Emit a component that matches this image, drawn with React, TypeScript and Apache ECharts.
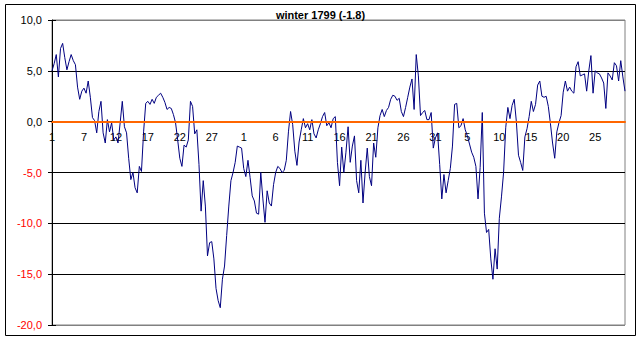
import React, { useEffect, useRef } from "react";
import * as echarts from "echarts";

// Temperature readings (3 per day, Dec 1799 – Feb 1800)
const temps: number[] = [
  5.0, 5.7, 6.6, 4.4, 7.2, 7.7, 6.3, 5.1, 5.9, 6.6,
  6.0, 5.6, 3.4, 2.2, 3.0, 3.3, 2.8, 4.0, 2.4, 0.4,
  0.1, -1.1, 1.0, 2.0, -1.1, -2.1, 0.2, -1.0, -0.1, -1.8,
  -1.5, -2.1, -0.1, 2.0, -0.5, -1.1, -3.6, -5.7, -5.0, -6.5,
  -7.0, -4.4, -4.9, -1.0, 1.8, 2.0, 1.7, 2.2, 1.8, 2.4,
  2.6, 2.8, 2.4, 1.9, 1.2, 1.4, 1.3, 0.7, -0.1, -1.8,
  -3.6, -4.4, -2.3, -2.5, -1.8, 2.0, 1.5, -1.2, -0.8, -4.2,
  -8.8, -5.8, -8.3, -13.2, -11.9, -11.8, -13.5, -16.4, -17.6, -18.3,
  -15.5, -14.2, -11.2, -8.3, -5.8, -5.0, -4.0, -2.4, -2.5, -2.6,
  -4.6, -5.4, -3.8, -5.5, -7.3, -7.8, -9.0, -9.1, -5.0, -7.6,
  -9.9, -6.8, -8.0, -8.3, -6.2, -5.0, -4.4, -4.6, -5.0, -4.8,
  -3.8, -1.0, 1.0, -0.3, -2.9, -4.3, -2.0, -0.8, 0.3, -0.6,
  -0.2, -0.8, 0.2, -1.2, -1.6, -0.8, -0.2, 0.5, 0.9, -0.4,
  -0.1, -0.6, 0.3, 0.5, -4.0, -6.3, -2.5, -5.0, -3.0,
  -0.5, -4.0, -2.4, -1.4, -5.8, -7.0, -3.8, -8.0, -5.0, -2.6,
  -5.4, -6.3, -2.1, -3.5, -0.6, 0.6, 1.2, 0.5, 1.1, 1.4,
  2.2, 2.6, 2.5, 2.1, 2.3, 1.0, 0.5, 1.4, 2.4, 3.4,
  4.2, 1.2, 6.6, 4.5, 0.6, 0.9, 1.1, 0.2, 0.2, 0.9,
  -2.6, -1.6, -1.1, -4.2, -7.6, -5.2, -7.0, -5.8, -4.6, -2.4,
  1.7, 1.8, -0.6, -0.4, 0.3, -0.8, -1.4, -2.2, -3.0, -3.5,
  -4.4, -7.6, -4.5, 0.9, -9.0, -10.9, -10.6, -13.5, -15.5, -12.5,
  -14.5, -9.5, -7.4, -5.0, -0.6, 1.4, 0.3, 1.6, 2.2, 0.0,
  -3.3, -4.0, -4.8, -1.5, -0.7, 0.5, 2.0, 1.0, 1.7, 3.6,
  4.0, 2.5, 2.4, 2.5, 1.5, -0.2, -2.1, -3.6, -1.0, -0.1,
  0.6, 2.9, 4.0, 3.0, 3.4, 3.0, 2.8, 5.4, 5.9, 4.5,
  4.6, 4.7, 3.0, 5.0, 6.5, 2.8, 5.0, 4.8, 4.7, 4.3,
  3.8, 1.3, 4.8, 4.5, 4.1, 5.8, 5.5, 4.0, 6.0, 4.4, 3.0,
];

// Day-of-month labels shown every 5 days (every 15 readings)
const tickLabels: string[] = [
  "1", "7", "12", "17", "22", "27", "1", "6", "11", "16", "21", "26", "31",
  "5", "10", "15", "20", "25",
];
const labelEvery = 15;

const categories: string[] = temps.map((_, i) => String(i));

const titleText = "winter 1799 (-1.8)";
const meanLine = 0;

const yMin = -20;
const yMax = 10;
const yStep = 5;

const FONT = "Arial, 'Liberation Sans', sans-serif";

const GRID_TOP = 20;
const GRID_HEIGHT = 305;

export default function App() {
  const ref = useRef<HTMLDivElement>(null);

  useEffect(() => {
    if (!ref.current) return;
    const chart = echarts.init(ref.current, undefined, { renderer: "svg" });
    const gridColors = ["#808080", "#000000", "#000000", "#000000", "#000000", "#000000", "#808080"];
    // distance from the bottom of the plot up to the zero line
    const zeroOffset = -GRID_HEIGHT * ((meanLine - yMin) / (yMax - yMin));
    chart.setOption({
      animation: false,
      backgroundColor: "#ffffff",
      title: {
        text: titleText,
        left: "center",
        top: 9,
        padding: 0,
        textStyle: { fontFamily: FONT, fontSize: 11, fontWeight: "bold", color: "#000" },
      },
      grid: {
        left: 52,
        top: GRID_TOP,
        width: 573,
        height: GRID_HEIGHT,
        show: true,
        borderColor: "#808080",
        borderWidth: 1,
        backgroundColor: "transparent",
      },
      xAxis: {
        type: "category",
        data: categories,
        boundaryGap: false,
        position: "bottom",
        offset: zeroOffset,
        axisLine: { show: true, onZero: false, lineStyle: { color: "#FF6600", width: 2 } },
        axisTick: { show: false },
        splitLine: { show: false },
        axisLabel: {
          interval: (index: number) => index % labelEvery === 0,
          formatter: (_v: string, index: number) => tickLabels[Math.round(index / labelEvery)] ?? "",
          fontFamily: FONT,
          fontSize: 11,
          color: "#000",
          margin: 10,
          showMinLabel: true,
          hideOverlap: false,
        },
      },
      yAxis: [
        {
          type: "value",
          min: yMin,
          max: yMax,
          interval: yStep,
          axisLine: { show: true, lineStyle: { color: "#000", width: 1 } },
          axisTick: { show: true, inside: false, length: 4, lineStyle: { color: "#000" } },
          splitLine: { show: true, lineStyle: { color: gridColors, width: 1 } },
          axisLabel: {
            fontFamily: FONT,
            fontSize: 11,
            margin: 10,
            formatter: (v: number) => v.toFixed(1).replace(".", ","),
            color: (v: any) => (Number(v) < 0 ? "#FF0000" : "#000000"),
          },
        },
        {
          type: "value",
          min: yMin,
          max: yMax,
          interval: yStep,
          position: "left",
          axisLine: { show: false },
          axisTick: { show: true, inside: true, length: 4, lineStyle: { color: "#000" } },
          splitLine: { show: false },
          axisLabel: { show: false },
        },
      ],
      series: [
        {
          type: "line",
          data: temps,
          symbol: "none",
          lineStyle: { color: "#000080", width: 1 },
          z: 3,
          markLine: {
            silent: true,
            symbol: "none",
            label: { show: false },
            lineStyle: { color: "#FF6600", width: 2, type: "solid" },
            data: [{ yAxis: meanLine }],
            z: 5,
          },
        },
      ],
      graphic: [
        {
          type: "rect",
          shape: { x: 5.5, y: 4.5, width: 630, height: 331 },
          style: { fill: "none", stroke: "#000", lineWidth: 1 },
          silent: true,
        },
      ],
    });
    return () => chart.dispose();
  }, []);

  return (
    <div
      ref={ref}
      style={{ position: "absolute", left: 0, top: 0, width: 641, height: 341, background: "#fff" }}
    />
  );
}
